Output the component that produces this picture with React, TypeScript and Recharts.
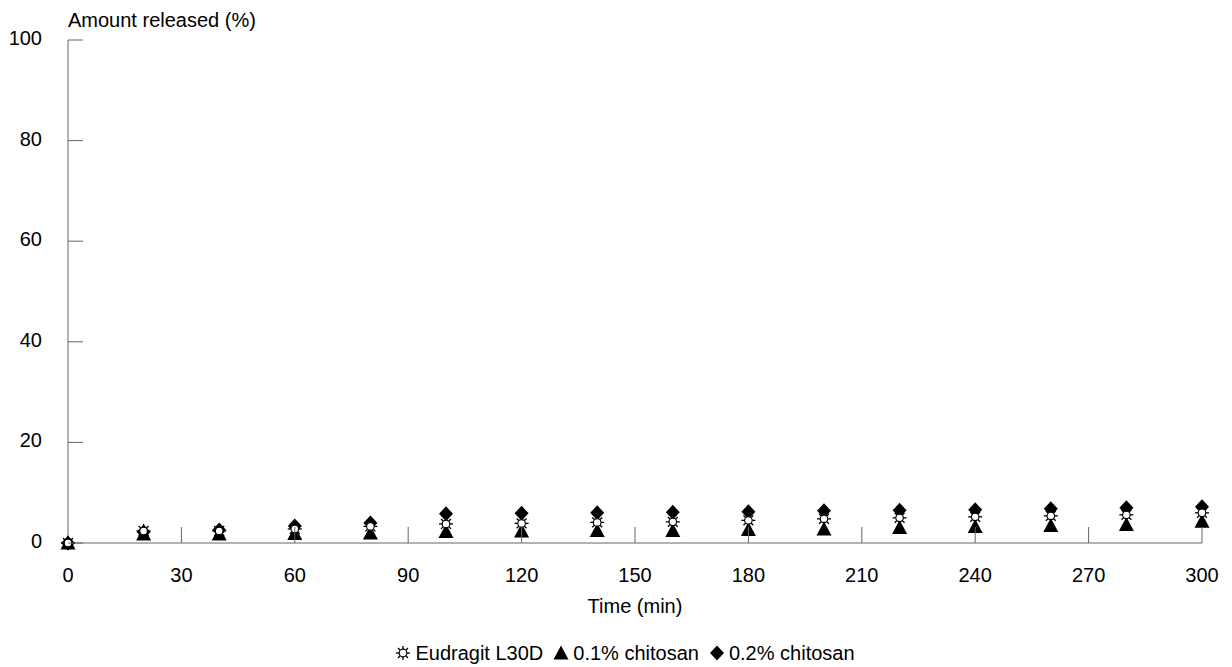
import { ScatterChart, Scatter, XAxis, YAxis, Legend } from 'recharts';

// sampling times (min)
const times = [0, 20, 40, 60, 80, 100, 120, 140, 160, 180, 200, 220, 240, 260, 280, 300];
// amount released (%) per formulation
const eudragit = [0, 2.4, 2.4, 2.8, 3.3, 3.8, 3.9, 4.1, 4.2, 4.5, 4.8, 5.0, 5.2, 5.4, 5.6, 6.0];
const chitosan01 = [0, 1.8, 1.8, 1.9, 2.0, 2.3, 2.4, 2.5, 2.5, 2.7, 2.8, 3.1, 3.3, 3.5, 3.7, 4.3];
const chitosan02 = [0, 2.2, 2.6, 3.4, 4.0, 5.8, 5.9, 6.0, 6.1, 6.2, 6.4, 6.5, 6.6, 6.8, 7.0, 7.2];

const xTicks = [0, 30, 60, 90, 120, 150, 180, 210, 240, 270, 300];
const yTicks = [0, 20, 40, 60, 80, 100];

const FONT = '"Liberation Sans", Arial, sans-serif';
const AXIS = '#666';
const FS = 20;

const toPoints = (vals: number[]) => times.map((t, i) => ({ t, v: vals[i] }));

const Sun = ({ cx, cy }: any) => {
  const rays = [0, 45, 90, 135, 180, 225, 270, 315];
  return (
    <g>
      {rays.map(a => {
        const r = (a * Math.PI) / 180;
        return (
          <line key={a} x1={cx + 4 * Math.cos(r)} y1={cy + 4 * Math.sin(r)}
            x2={cx + 7 * Math.cos(r)} y2={cy + 7 * Math.sin(r)} stroke="#000" strokeWidth={1.3} />
        );
      })}
      <circle cx={cx} cy={cy} r={3.8} fill="#fff" stroke="#000" strokeWidth={1.2} />
    </g>
  );
};

const Triangle = ({ cx, cy }: any) => (
  <polygon points={`${cx},${cy - 7.5} ${cx + 7.5},${cy + 6.5} ${cx - 7.5},${cy + 6.5}`} fill="#000" />
);

const Diamond = ({ cx, cy }: any) => (
  <polygon points={`${cx},${cy - 7.5} ${cx + 7},${cy} ${cx},${cy + 7.5} ${cx - 7},${cy}`} fill="#000" />
);

const YTick = ({ x, y, payload }: any) => (
  <g>
    <line x1={x} x2={x + 15} y1={y} y2={y} stroke={AXIS} />
    <text x={x - 26} y={y} dy="0.25em" textAnchor="end" fontSize={FS} fontFamily={FONT} fill="#000">
      {payload.value}
    </text>
  </g>
);

const XTick = ({ x, y, payload }: any) => (
  <g>
    {payload.value !== 0 && <line x1={x} x2={x} y1={y} y2={y - 16} stroke={AXIS} />}
    <text x={x} y={y + 39} textAnchor="middle" fontSize={FS} fontFamily={FONT} fill="#000">
      {payload.value}
    </text>
  </g>
);

const legendItems = [
  { name: 'Eudragit L30D', Icon: Sun },
  { name: '0.1% chitosan', Icon: Triangle },
  { name: '0.2% chitosan', Icon: Diamond },
];

const LegendContent = () => (
  <div style={{ display: 'flex', justifyContent: 'center', alignItems: 'center', height: 22, paddingLeft: 20,
    fontFamily: FONT, fontSize: FS, color: '#000' }}>
    {legendItems.map(({ name, Icon }) => (
      <span key={name} style={{ display: 'inline-flex', alignItems: 'center', marginRight: 10 }}>
        <svg width={16} height={16} style={{ marginRight: 4 }}>
          <Icon cx={8} cy={8} />
        </svg>
        {name}
      </span>
    ))}
  </div>
);

export default function App() {
  return (
    <ScatterChart width={1224} height={659} margin={{ top: 32, right: 30, left: 0, bottom: 3 }}>
      <XAxis
        type="number"
        dataKey="t"
        domain={[0, 300]}
        ticks={xTicks}
        interval={0}
        height={99}
        tickSize={0}
        tickMargin={0}
        tickLine={false}
        stroke={AXIS}
        tick={<XTick />}
        label={(p: any) => (
          <text x={p.viewBox.x + p.viewBox.width / 2} y={p.viewBox.y + 70} textAnchor="middle"
            fontSize={FS} fontFamily={FONT} fill="#000">
            Time (min)
          </text>
        )}
      />
      <YAxis
        type="number"
        dataKey="v"
        domain={[0, 100]}
        ticks={yTicks}
        interval={0}
        width={60}
        tickSize={0}
        tickMargin={0}
        tickLine={false}
        stroke={AXIS}
        tick={<YTick />}
        label={(p: any) => (
          <text x={p.viewBox.x + p.viewBox.width} y={p.viewBox.y - 13} textAnchor="start"
            fontSize={FS} fontFamily={FONT} fill="#000">
            Amount released (%)
          </text>
        )}
      />
      <Legend verticalAlign="bottom" height={22} wrapperStyle={{ left: 0, width: 1224 }} content={<LegendContent />} />
      <Scatter name="0.2% chitosan" data={toPoints(chitosan02)} shape={<Diamond />} isAnimationActive={false} />
      <Scatter name="0.1% chitosan" data={toPoints(chitosan01)} shape={<Triangle />} isAnimationActive={false} />
      <Scatter name="Eudragit L30D" data={toPoints(eudragit)} shape={<Sun />} isAnimationActive={false} />
    </ScatterChart>
  );
}
